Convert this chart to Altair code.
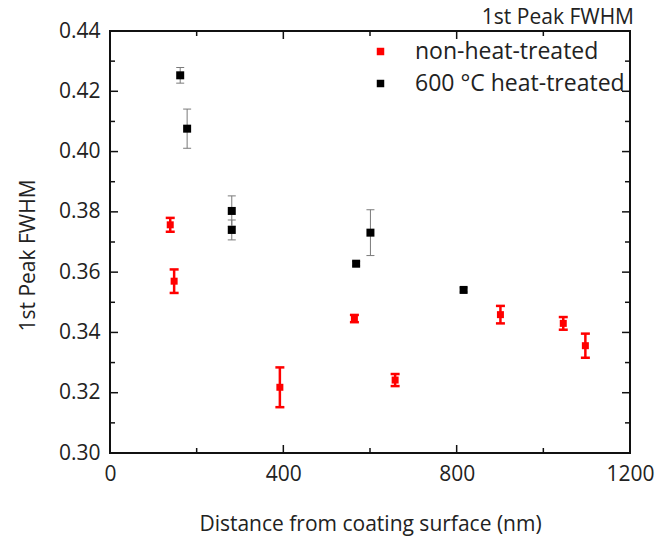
import altair as alt
import pandas as pd

# ---- data ----
series_names = ["non-heat-treated", "600 °C heat-treated"]

red_x = [139, 148, 392, 564, 658, 901, 1046, 1097]
red_y = [0.3757, 0.3570, 0.3218, 0.3446, 0.3242, 0.3459, 0.3430, 0.3356]
red_err = [0.0023, 0.0039, 0.0066, 0.0012, 0.0020, 0.0029, 0.0021, 0.0040]

black_x = [162, 178, 281, 281, 568, 601, 816]
black_y = [0.4253, 0.4076, 0.3803, 0.3740, 0.3628, 0.3731, 0.3541]
black_err = [0.0026, 0.0065, 0.0050, 0.0033, 0.0007, 0.0076, 0.0007]

x_major = [0, 400, 800, 1200]
x_minor = [200, 600, 1000]
y_major = [0.30, 0.32, 0.34, 0.36, 0.38, 0.40, 0.42, 0.44]
y_minor = [0.31, 0.33, 0.35, 0.37, 0.39, 0.41, 0.43]

x_title = "Distance from coating surface (nm)"
y_title = "1st Peak FWHM"
chart_title = "1st Peak FWHM"

red = pd.DataFrame({"x": red_x, "y": red_y, "err": red_err})
red["series"] = series_names[0]
black = pd.DataFrame({"x": black_x, "y": black_y, "err": black_err})
black["series"] = series_names[1]
for df in (red, black):
    df["lo"] = df["y"] - df["err"]
    df["hi"] = df["y"] + df["err"]

FONT = "Open Sans"
TXT = "#222222"
W, H = 520, 422
MAJ, MIN = 8, 5
TICKC = "#111111"

xs = alt.Scale(domain=[0, 1200], nice=False)
ys = alt.Scale(domain=[0.30, 0.44], nice=False)

x_axis = alt.Axis(values=x_major, format="d", ticks=False, tickSize=0, domain=False,
                  grid=False, labelFont=FONT, labelFontSize=21, labelColor=TXT,
                  labelPadding=10, labelFlush=False, labelOverlap=False,
                  title=x_title, titleFont=FONT, titleFontSize=21, titleFontWeight="normal",
                  titleColor=TXT, titleY=77, titleBaseline="alphabetic")
y_axis = alt.Axis(values=y_major, format=".2f", ticks=False, tickSize=0, domain=False,
                  grid=False, labelFont=FONT, labelFontSize=21, labelColor=TXT,
                  labelPadding=10, labelFlush=False, labelOverlap=False,
                  title=y_title, titleFont=FONT, titleFontSize=21, titleFontWeight="normal",
                  titleColor=TXT, titleX=-76, titleY=224, titleBaseline="alphabetic",
                  titleAngle=270)

color = alt.Color(
    "series:N",
    scale=alt.Scale(domain=series_names, range=["#ff0000", "#000000"]),
    legend=alt.Legend(
        title=None, orient="none", legendX=259, legendY=9,
        symbolType="square", symbolSize=56, symbolStrokeWidth=0,
        labelFont=FONT, labelFontSize=23, labelColor=TXT, labelOffset=23,
        labelLimit=500, rowPadding=8, padding=0,
    ),
)

X = lambda f: alt.X(f"{f}:Q", scale=xs, axis=x_axis)
Y = lambda f: alt.Y(f"{f}:Q", scale=ys, axis=y_axis)

# inward axis ticks on all four sides, drawn from the tick-value lists
def xticks(vals, length, top):
    y0 = 0 if top else H
    y1 = length if top else H - length
    return alt.Chart(pd.DataFrame({"v": vals})).mark_rule(
        color=TICKC, strokeWidth=1.5).encode(x=X("v"), y=alt.value(y0), y2=alt.value(y1))

def yticks(vals, length, right):
    x0 = W if right else 0
    x1 = W - length if right else length
    return alt.Chart(pd.DataFrame({"v": vals})).mark_rule(
        color=TICKC, strokeWidth=1.5).encode(y=Y("v"), x=alt.value(x0), x2=alt.value(x1))

tick_layers = [
    xticks(x_major, MAJ, False), xticks(x_minor, MIN, False),
    xticks(x_major, MAJ, True), xticks(x_minor, MIN, True),
    yticks(y_major, MAJ, False), yticks(y_minor, MIN, False),
    yticks(y_major, MAJ, True), yticks(y_minor, MIN, True),
]

# error bars
red_rule = alt.Chart(red).mark_rule(color="#ff0000", strokeWidth=2.5).encode(
    x=X("x"), y=Y("lo"), y2="hi:Q")
black_rule = alt.Chart(black).mark_rule(color="#7a7a7a", strokeWidth=1).encode(
    x=X("x"), y=Y("lo"), y2="hi:Q")

def caps(df, field, col, thick, size):
    return alt.Chart(df).mark_tick(orient="horizontal", color=col, thickness=thick,
                                   size=size, opacity=1).encode(x=X("x"), y=Y(field))

red_caps_lo = caps(red, "lo", "#ff0000", 2.5, 9)
red_caps_hi = caps(red, "hi", "#ff0000", 2.5, 9)
black_caps_lo = caps(black, "lo", "#7a7a7a", 1, 8)
black_caps_hi = caps(black, "hi", "#7a7a7a", 1, 8)

red_pts = alt.Chart(red).mark_point(shape="square", filled=True, opacity=1, size=49).encode(
    x=X("x"), y=Y("y"), color=color)
black_pts = alt.Chart(black).mark_point(shape="square", filled=True, opacity=1, size=64).encode(
    x=X("x"), y=Y("y"), color=color)

chart = alt.layer(
    *tick_layers,
    red_rule, black_rule,
    red_caps_lo, red_caps_hi, black_caps_lo, black_caps_hi,
    red_pts, black_pts,
).properties(
    width=W, height=H,
    autosize=alt.AutoSizeParams(type="none"),
    padding={"left": 110, "top": 31, "right": 31, "bottom": 84},
    title=alt.TitleParams(chart_title, anchor="end", frame="group", font=FONT,
                          fontSize=21, fontWeight="normal", color=TXT,
                          baseline="alphabetic", offset=7, dx=4, dy=32),
).configure_view(stroke="#111111", strokeWidth=2)

chart.save("out.html", embed_options={"renderer": "svg", "actions": False})
